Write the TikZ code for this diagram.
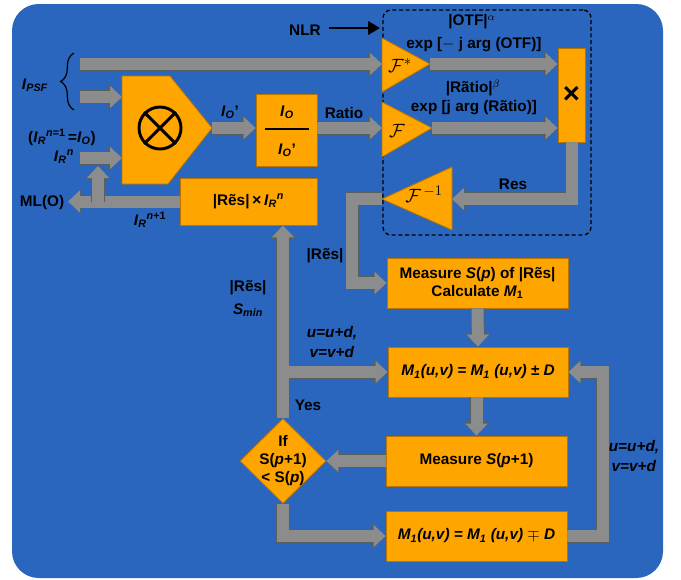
\documentclass[tikz,border=0pt]{standalone}
\usepackage{fontspec}
\setmainfont{Liberation Sans}
\usetikzlibrary{arrows.meta,shapes.geometric,decorations.pathreplacing}
\definecolor{bgblue}{HTML}{2A66BD}
\definecolor{boxor}{HTML}{FFA500}
\definecolor{boxedge}{HTML}{B87400}
\definecolor{garr}{HTML}{8C8C8C}
\definecolor{garrd}{HTML}{56615F}
\newcommand\vi[1]{\textit{#1}}
\newcommand\Rest{R\~{e}s}
\newcommand\Ratiot{R\~{a}tio}
\begin{document}
\begin{tikzpicture}[x=0.75pt,y=-0.75pt,
  font=\bfseries\fontsize{11.5}{13.5}\selectfont,
  bx/.style 2 args={rectangle, fill=boxor, draw=boxedge, line width=0.6pt, minimum width=#1*0.75pt, minimum height=#2*0.75pt, inner sep=0pt, align=center},
  garrow/.style={draw=garr, line width=9pt, line join=miter, -{Triangle[length=0pt 1.0, width=0pt 1.8]},
     preaction={draw=garrd, line width=10.2pt, line join=miter, -{Triangle[length=0pt 1.0, width=0pt 1.8]}}},
  lbl/.style={inner sep=0pt, align=center},
  tri/.style={fill=boxor, draw=boxedge, line width=0.6pt}
]
\useasboundingbox (0,0) rectangle (681,579);
\fill[bgblue, rounded corners=20pt] (12,4) rectangle (663,578);

% dashed NLR region
\node[draw, dash pattern=on 3pt off 2pt, line width=1pt, rounded corners=6pt,
      minimum width=208*0.75pt, minimum height=225*0.75pt, inner sep=0pt] (nlrbox) at (487,122.5) {};

% boxes
\node[bx={61}{72}] (ratio) at (286.5,130) {};
\node[bx={137}{47}] (resx) at (248.5,201.5) {|\Rest|\,{\large ×}\,\vi{I}\textsubscript{\vi{R}}\textsuperscript{\vi{n}}};
\node[bx={181}{50}] (meas) at (477.5,283) {Measure \vi{S}(\vi{p}) of |\Rest|\\Calculate \vi{M}\textsubscript{1}};
\node[bx={180}{50}] (mpm) at (478,372) {\itshape M\textsubscript{1}(u,v) = M\textsubscript{1} (u,v) ± D};
\node[bx={181}{50}] (meas2) at (476.5,461) {Measure \vi{S}(\vi{p}+1)};
\node[bx={181}{50}] (mmp) at (476.5,536) {\itshape M\textsubscript{1}(u,v) = M\textsubscript{1} (u,v) $\mp$ D};
\node[bx={27}{94}] (mul) at (571.5,95) {\fontsize{22}{22}\selectfont ×};
\node[diamond, fill=boxor, draw=boxedge, line width=0.6pt, minimum width=86*0.75pt, minimum height=85*0.75pt, inner sep=0pt] (dia) at (283,461) {};
\node[lbl] at (dia) {If\\S(\vi{p}+1)\\< S(\vi{p})};

% multiplier pentagon
\filldraw[tri] (122,76) -- (170,76) -- (212,128) -- (168,184) -- (122,184) -- cycle;
\node[circle, draw, line width=2.2pt, minimum size=42*0.75pt, inner sep=0pt] (otimes) at (160,128) {};
\draw[line width=2.2pt] (otimes.north west) -- (otimes.south east) (otimes.north east) -- (otimes.south west);
\coordinate (xin1) at (122,97);
\coordinate (xin2) at (122,158);
\coordinate (xout) at (212,128);

% fraction in ratio box
\node[lbl] at (287,112) {\vi{I}\textsubscript{\vi{O}}};
\draw[line width=2pt] (265,129) -- (309,129);
\node[lbl] at (287,150) {\vi{I}\textsubscript{\vi{O}}'};

% Fourier triangles
\filldraw[tri] (382,38) -- (430,64) -- (382,92) -- cycle;
\node[lbl] at (400,66) {\fontsize{15}{15}\selectfont $\mathcal{F}^{*}$};
\filldraw[tri] (382,102) -- (432,128) -- (382,157) -- cycle;
\node[lbl] at (397,131) {\fontsize{15}{15}\selectfont $\mathcal{F}$};
\filldraw[tri] (452,167) -- (382,199) -- (452,230) -- cycle;
\node[lbl] at (424,194) {\fontsize{15}{15}\selectfont $\mathcal{F}^{\,-1}$};
\coordinate (FsIn) at (382,64);
\coordinate (FsOut) at (430,64);
\coordinate (FIn) at (382,128);
\coordinate (FOut) at (432,128);
\coordinate (FiIn) at (452,199);
\coordinate (FiOut) at (382,199);

% free ends
\coordinate (psfA) at (80,64);
\coordinate (psfB) at (80,97);
\coordinate (irn) at (80,158);
\coordinate (mlo) at (68,203);
\coordinate (brup) at (98,166);
\coordinate (fo1) at (352,199);
\coordinate (rl) at (603,0);

% gray arrows
\draw[garrow] (psfA) -- (FsIn);
\draw[garrow] (psfB) -- (xin1);
\draw[garrow] (irn) -- (xin2);
\draw[garrow] (xout) -- (xout -| ratio.west);
\draw[garrow] (ratio.east |- FIn) -- (FIn);
\draw[garrow] (FsOut) -- (FsOut -| mul.west);
\draw[garrow] (FOut) -- (FOut -| mul.west);
\draw[garrow] (mul.south) -- (mul.south |- FiIn) -- (FiIn);
\draw[garrow] (FiOut) -- (fo1) -- (fo1 |- meas.west) -- (meas.west);
\draw[garrow] (meas.south) -- (mpm.north);
\draw[garrow] (dia.north) -- (dia.north |- resx.south);
\draw[garrow] ([xshift=4.5pt]dia.north |- mpm.west) -- (mpm.west);
\draw[garrow] (meas2.north |- mpm.south) -- (meas2.north);
\draw[garrow] (meas2.west) -- (dia.east);
\draw[garrow] (dia.south) -- (dia.south |- mmp.west) -- (mmp.west);
\draw[garrow] (mmp.east) -- (rl |- mmp.east) -- (rl |- mpm.east) -- (mpm.east);
\draw[garrow] (resx.west) -- (resx.west -| mlo);
\draw[garrow] (brup |- resx.west) -- (brup);

% NLR
\node[lbl] (nlr) at (305,30) {NLR};
\coordinate (nlrEnd) at (380,28);
\draw[line width=2.2pt, -{Triangle[length=9pt,width=10pt]}] (nlr.east |- nlrEnd) ++(8,0) -- (nlrEnd);

% brace
\draw[decorate, decoration={brace, amplitude=10pt}, line width=0.9pt] (74,110) -- (74,53);

% labels
\node[lbl] at (35,85) {\vi{I}\textsubscript{\vi{PSF}}};
\node[lbl] at (230,112) {\vi{I}\textsubscript{\vi{O}}'};
\node[lbl] at (344,113) {Ratio};
\node[lbl] at (62,137) {(\vi{I}\textsubscript{\vi{R}}\textsuperscript{\vi{n}=1}\,=\vi{I}\textsubscript{\vi{O}})};
\node[lbl] at (64,157) {\vi{I}\textsubscript{\vi{R}}\textsuperscript{\vi{n}}};
\node[lbl] at (42,203) {ML(O)};
\node[lbl] at (150,220) {\vi{I}\textsubscript{\vi{R}}\textsuperscript{\vi{n}+1}};
\node[lbl] at (472,22) {|OTF|$^{\alpha}$};
\node[lbl] at (474,45) {exp [$-$ j arg (OTF)]};
\node[lbl] at (473,88) {|\Ratiot|$^{\beta}$};
\node[lbl] at (474,108) {exp [j arg (\Ratiot)]};
\node[lbl] at (513,184) {Res};
\node[lbl] at (325,256) {|\Rest|};
\node[lbl] at (248,288) {|\Rest|};
\node[lbl] at (248,310) {\vi{S}\textsubscript{\vi{min}}};
\node[lbl] at (332,333) {\vi{u=u+d,}};
\node[lbl] at (332,352) {\vi{v=v+d}};
\node[lbl] at (308,405) {Yes};
\node[lbl] at (634,447) {\vi{u=u+d,}};
\node[lbl] at (634,466) {\vi{v=v+d}};
\end{tikzpicture}
\end{document}
